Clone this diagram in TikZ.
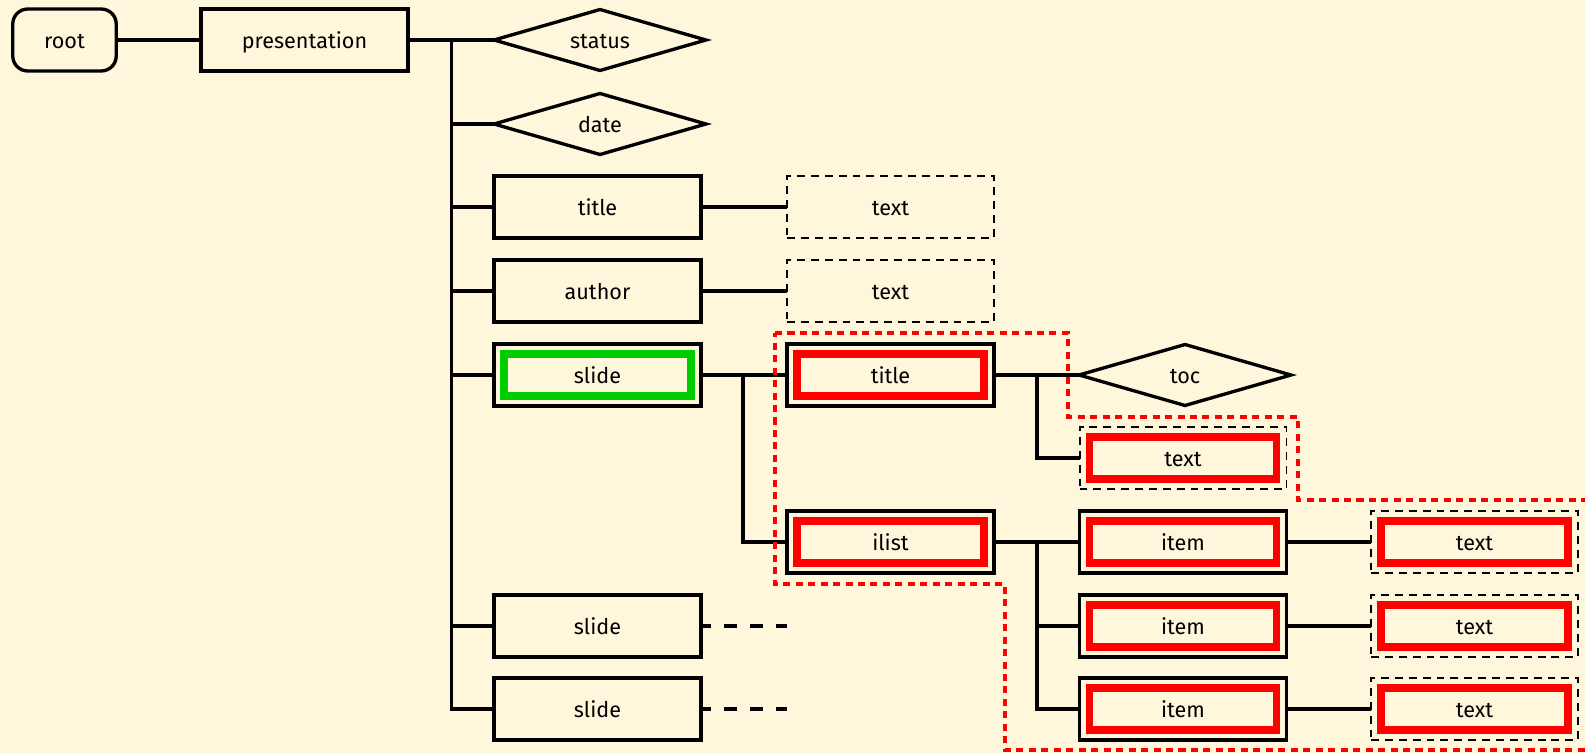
\documentclass[tikz,border=0pt]{standalone}
\usepackage{fontspec}
\setmainfont{Fira Sans}
\usetikzlibrary{shapes.geometric}
\definecolor{paper}{RGB}{255,247,220}
\definecolor{slidegreen}{RGB}{0,204,0}
\tikzset{
  element/.style={
    draw, rectangle, line width=1.9pt,
    minimum width=4.14cm, minimum height=1.24cm,
    inner sep=0pt, outer sep=0pt,
    text height=0.34cm, text depth=0cm,
    font=\fontsize{12.3}{14}\selectfont,
  },
  attribute/.style={
    element, diamond, shape aspect=3.4,
    minimum width=4.24cm, minimum height=1.22cm,
  },
  textnode/.style={
    element, line width=1.1pt,
    dash pattern=on 4.5pt off 3.4pt,
  },
  marked/.style={
    path picture={
      \draw[#1, solid, line width=4.5pt]
        ([shift={(0.2cm,0.2cm)}]path picture bounding box.south west) rectangle
        ([shift={(-0.2cm,-0.2cm)}]path picture bounding box.north east);
    }
  },
  link/.style={line width=2pt},
  more/.style={line width=2.4pt, dash pattern=on 7.4pt off 7.4pt, dash phase=1.7pt},
  selection/.style={red, line width=2.3pt, dash pattern=on 4pt off 3.1pt},
}

\begin{document}
\begin{tikzpicture}[x=0.02cm, y=-0.02cm]
            \useasboundingbox (0,0) rectangle (1585,753);
            \fill[paper] (0,0) rectangle (1585,753);

            \node[element, rounded corners=0.3cm, minimum width=2.07cm] (root) at (64.5,40) {root};
            \node[element] (presentation) at (304.5,40) {presentation};

            \node[attribute] (status) at (600,40) {status};
            \node[attribute] (date) at (600,124) {date};
            \node[element] (title) at (597.5,207) {title};
            \node[textnode] (titletext) at (890.5,207) {text};
            \node[element] (author) at (597.5,291) {author};
            \node[textnode] (authortext) at (890.5,291) {text};
            \node[element, marked=slidegreen] (slide) at (597.5,375) {slide};
            \node[element] (slidetwo) at (597.5,626) {slide};
            \node[element] (slidethree) at (597.5,709) {slide};

            \node[element, marked=red] (slidetitle) at (890.5,375) {title};
            \node[attribute] (toc) at (1185,375) {toc};
            \node[textnode, marked=red] (slidetitletext) at (1183,458) {text};
            \node[element, marked=red] (ilist) at (890.5,542) {ilist};

            \node[element, marked=red] (itemone) at (1183,542) {item};
            \node[element, marked=red] (itemtwo) at (1183,626) {item};
            \node[element, marked=red] (itemthree) at (1183,709) {item};
            \node[textnode, marked=red] (itemonetext) at (1474.5,542) {text};
            \node[textnode, marked=red] (itemtwotext) at (1474.5,626) {text};
            \node[textnode, marked=red] (itemthreetext) at (1474.5,709) {text};

            \coordinate (trunk) at (451.5,40);
            \coordinate (slidefork) at (743,375);
            \coordinate (tocfork) at (1037,375);
            \coordinate (itemfork) at (1037,542);
            \coordinate (slidetwomore) at (787,626);
            \coordinate (slidethreemore) at (787,709);

            \draw[link] (root) -- (presentation);
            \draw[link] (presentation) -- (status);
            \draw[link] (trunk) |- (slidethree);
            \draw[link] (trunk |- date) -- (date);
            \draw[link] (trunk |- title) -- (title);
            \draw[link] (trunk |- author) -- (author);
            \draw[link] (trunk |- slide) -- (slide);
            \draw[link] (trunk |- slidetwo) -- (slidetwo);

            \draw[link] (title) -- (titletext);
            \draw[link] (author) -- (authortext);

            \draw[link] (slide) -- (slidetitle);
            \draw[link] (slidefork) |- (ilist);
            \draw[link] (slidetitle) -- (toc);
            \draw[link] (tocfork) |- (slidetitletext);

            \draw[link] (ilist) -- (itemone);
            \draw[link] (itemfork) |- (itemtwo);
            \draw[link] (itemfork) |- (itemthree);
            \draw[link] (itemone) -- (itemonetext);
            \draw[link] (itemtwo) -- (itemtwotext);
            \draw[link] (itemthree) -- (itemthreetext);

            \draw[more] (slidetwo) -- (slidetwomore);
            \draw[more] (slidethree) -- (slidethreemore);

            \draw[selection] (775,333) -- (1068,333) -- (1068,417) -- (1298,417) -- (1298,500)
                -- (1620,500) -- (1620,750) -- (1005,750) -- (1005,584) -- (775,584) -- cycle;
        \end{tikzpicture}
\end{document}
